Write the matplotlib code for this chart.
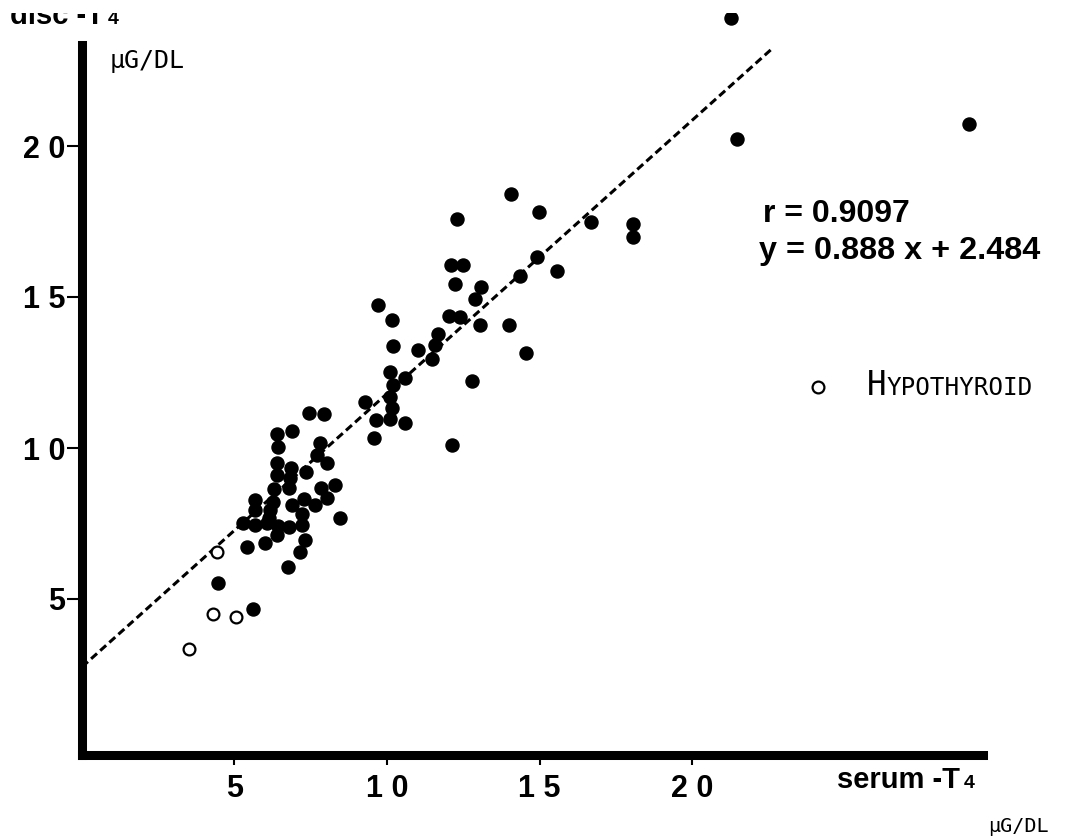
import numpy as np
import matplotlib
matplotlib.use("Agg")
import matplotlib.pyplot as plt
from matplotlib.patches import Rectangle

# --- data (ug/dL) ----------------------------------------------------------
normal_x = [21.28, 21.49, 29.09, 14.06, 14.98, 12.30, 18.08, 18.08, 16.68,
            12.10, 12.50, 14.93, 15.58, 12.23, 14.36, 13.07, 12.90, 12.04,
            12.39, 13.05, 14.01, 14.56, 9.72, 10.15, 11.68, 11.57, 10.21,
            11.03, 11.47, 10.11, 10.59, 10.21, 12.80, 9.27, 10.10, 10.15,
            9.65, 10.10, 10.58, 9.58, 12.12, 7.45, 7.95, 6.38, 6.87, 6.44,
            7.80, 7.72, 8.02, 6.38, 6.38, 6.84, 6.82, 7.34, 6.80, 6.30,
            8.30, 7.82, 8.02, 7.28, 7.64, 6.87, 5.67, 5.67, 6.27, 6.16,
            7.20, 6.14, 5.29, 5.67, 6.08, 6.44, 6.80, 7.20, 6.38, 8.46,
            5.40, 6.00, 7.31, 7.15, 6.76, 4.45, 5.62]
normal_y = [24.23, 20.22, 20.73, 18.40, 17.80, 17.57, 17.41, 17.00, 17.49,
            16.06, 16.06, 16.31, 15.87, 15.43, 15.70, 15.32, 14.93, 14.37,
            14.33, 14.07, 14.07, 13.13, 14.75, 14.24, 13.77, 13.40, 13.38,
            13.26, 12.94, 12.53, 12.31, 12.09, 12.22, 11.53, 11.70, 11.31,
            10.93, 10.97, 10.84, 10.32, 10.10, 11.17, 11.13, 10.48, 10.56,
            10.04, 10.15, 9.77, 9.49, 9.49, 9.10, 9.33, 9.00, 9.20, 8.66,
            8.63, 8.77, 8.66, 8.33, 8.30, 8.11, 8.11, 8.28, 7.95, 8.22,
            7.95, 7.83, 7.67, 7.51, 7.45, 7.51, 7.42, 7.39, 7.45, 7.12,
            7.67, 6.73, 6.84, 6.97, 6.56, 6.07, 5.54, 4.66]
hypo_x = [3.51, 4.31, 5.04, 4.42]
hypo_y = [3.36, 4.50, 4.41, 6.57]

# regression line as drawn in the reference
fit_x = [0.0, 22.6]
fit_y = [2.75, 23.2]
r_value = 0.9097
slope, intercept = 0.888, 2.484

tick_vals = [5, 10, 15, 20]
tick_labels = ["5", "1 0", "1 5", "2 0"]

key_x, key_y = 24.13, 12.02   # legend key for hypothyroid

# --- layout ----------------------------------------------------------------
W, H = 1072, 836
X0PX, XSC = 82.0, 30.5    # pixel of x=0, pixels per unit
Y0PX, YSC = 750.0, 30.2


def fxy(px, py):
    return px / W, 1 - py / H


BOLD = "Liberation Sans"
MONO = "DejaVu Sans Mono"

fig = plt.figure(figsize=(W / 100, H / 100), dpi=100, facecolor="w")
x_lo, y_lo = -1.0, -1.5
left_px = X0PX + x_lo * XSC
bot_px = Y0PX - y_lo * YSC
ax = fig.add_axes([left_px / W, 1 - bot_px / H, 1 - left_px / W, bot_px / H])
ax.set_xlim(x_lo, (W - X0PX) / XSC)
ax.set_ylim(y_lo, Y0PX / YSC)
ax.patch.set_visible(False)

for s in ("top", "right"):
    ax.spines[s].set_visible(False)
ax.spines["left"].set_position(("data", 0))
ax.spines["bottom"].set_position(("data", -0.166))
ax.spines["left"].set_bounds(-0.166, 23.35)
ax.spines["bottom"].set_bounds(0.0, 29.55)
for s in ("left", "bottom"):
    ax.spines[s].set_linewidth(6.5)
    ax.spines[s].set_capstyle("projecting")

ax.set_xticks(tick_vals)
ax.set_yticks(tick_vals)
tfont = dict(family=BOLD, weight="bold", size=22)
ax.set_xticklabels(tick_labels, fontdict=tfont)
ax.set_yticklabels(tick_labels, fontdict=tfont)
ax.tick_params(axis="x", direction="out", length=7.5, width=1.5, pad=6)
ax.tick_params(axis="y", direction="out", length=11, width=1.5, pad=1)

# regression line + points
ax.plot(fit_x, fit_y, color="k", lw=2.2, dashes=(2.6, 1.4), zorder=2)
ax.plot(normal_x, normal_y, "o", color="k", ms=9.4, ls="none", zorder=3,
        clip_on=False)
ax.plot(hypo_x, hypo_y, "o", mfc="w", mec="k", mew=1.6, ms=8.5, ls="none",
        zorder=4)

# legend key
ax.plot([key_x], [key_y], "o", mfc="w", mec="k", mew=1.6, ms=8.5)
h = fig.text(*fxy(867, 395), "H", family=MONO, size=23.5, va="baseline")
ax.annotate("YPOTHYROID", xy=(1.0, fxy(0, 395)[1]),
            xycoords=(h, "figure fraction"), family=MONO, size=17.5,
            va="baseline", ha="left")

# statistics
fig.text(*fxy(763, 222), f"r = {r_value:.4f}", family=BOLD, weight="bold",
         size=23, va="baseline")
fig.text(*fxy(759, 259), f"y = {slope:.3f} x + {intercept:.3f}", family=BOLD,
         weight="bold", size=23.3, va="baseline")

# axis titles / units
fig.text(*fxy(110, 68), "\u03bcG/DL", family=MONO, size=18, va="baseline")
fig.text(*fxy(988, 832), "\u03bcG/DL", family=MONO, size=14.5, va="baseline")

xs = fig.text(*fxy(837, 788), "serum -T", family=BOLD, weight="bold",
              size=21, va="baseline")
ax.annotate("4", xy=(1.0, fxy(0, 788)[1]), xycoords=(xs, "figure fraction"),
            xytext=(3, 0), textcoords="offset points", family=BOLD,
            weight="bold", size=14, va="baseline")

# y title: only its lower part survives at the top edge of the scan
ys = fig.text(*fxy(10, 24), "disc -T", family=BOLD, weight="bold",
              size=21, va="baseline")
ax.annotate("4", xy=(1.0, fxy(0, 24)[1]), xycoords=(ys, "figure fraction"),
            xytext=(3, 0), textcoords="offset points", family=BOLD,
            weight="bold", size=14, va="baseline")
fig.add_artist(Rectangle((0, 1 - 13 / H), 1, 13 / H, transform=fig.transFigure,
                         facecolor="w", edgecolor="none", zorder=20))

fig.savefig("out.png", dpi=100)
